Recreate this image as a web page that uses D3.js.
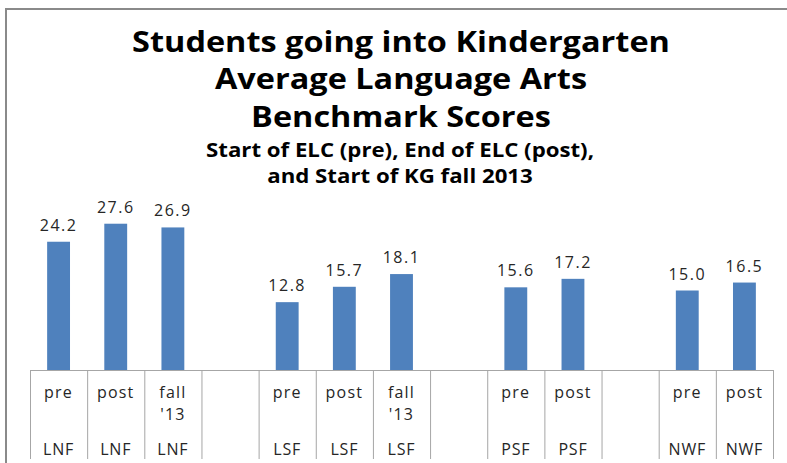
<!DOCTYPE html>
<html>
<head>
<meta charset="utf-8">
<script src="https://cdn.jsdelivr.net/npm/d3@7"></script>
<style>
  body { margin: 0; background: #fff; }
  text { font-family: "Open Sans", sans-serif; }
</style>
</head>
<body>
<div id="chart"></div>
<script>
// data
const measures = ["LNF", "LNF", "LNF", "", "LSF", "LSF", "LSF", "", "PSF", "PSF", "", "NWF", "NWF"];
const periods = ["pre", "post", "fall '13", "", "pre", "post", "fall '13", "", "pre", "post", "", "pre", "post"];
const scores = [24.2, 27.6, 26.9, null, 12.8, 15.7, 18.1, null, 15.6, 17.2, null, 15.0, 16.5];

const titleLines = ["Students going into Kindergarten", "Average Language Arts", "Benchmark Scores"];
const subtitleLines = ["Start of ELC (pre), End of ELC (post),", "and Start of KG fall 2013"];

const W = 787, H = 463;
const left = 30, right = 773, baseline = 370, tableBottom = 459;

const svg = d3.select("#chart")
  .append("svg")
    .attr("width", W)
    .attr("height", H);

// outer frame (top and left edges visible)
svg.append("path")
  .attr("d", `M6,${H} V9 H${W}`)
  .attr("fill", "none")
  .attr("stroke", "#8a8a8a")
  .attr("stroke-width", 2);

// titles (original font is a bit wider, so stretch horizontally)
svg.append("g")
  .attr("transform", "translate(401,0) scale(1.12,1)")
  .selectAll(".title")
  .data(titleLines)
  .join("text")
    .attr("class", "title")
    .attr("x", 0)
    .attr("y", (d, i) => 52 + i * 37.5)
    .attr("text-anchor", "middle")
    .attr("font-size", "29px")
    .attr("font-weight", "bold")
    .attr("fill", "#000")
    .text(d => d);

svg.append("g")
  .attr("transform", "translate(400,0) scale(1.17,1)")
  .selectAll(".subtitle")
  .data(subtitleLines)
  .join("text")
    .attr("class", "subtitle")
    .attr("x", 0)
    .attr("y", (d, i) => 157 + i * 26)
    .attr("text-anchor", "middle")
    .attr("font-size", "19px")
    .attr("font-weight", "bold")
    .attr("fill", "#000")
    .text(d => d);

// scales
const idx = d3.range(scores.length).map(String);
const x = d3.scaleBand()
  .domain(idx)
  .range([left, right])
  .paddingInner(0.6)
  .paddingOuter(0.3);

const xEdge = d3.scaleLinear()
  .domain([0, scores.length])
  .range([left, right]);

const y = d3.scaleLinear()
  .domain([0, 30])
  .range([baseline, 211]);

const data = idx.map((k, i) => ({k, measure: measures[i], period: periods[i], v: scores[i]}))
  .filter(d => d.v !== null);

// bars
svg.selectAll(".bar")
  .data(data)
  .join("rect")
    .attr("class", "bar")
    .attr("x", d => x(d.k))
    .attr("width", x.bandwidth())
    .attr("y", d => y(d.v))
    .attr("height", d => baseline - y(d.v))
    .attr("fill", "#4F81BD");

// value labels
svg.selectAll(".label")
  .data(data)
  .join("text")
    .attr("class", "label")
    .attr("x", d => x(d.k) + x.bandwidth() / 2)
    .attr("y", d => y(d.v) - 11)
    .attr("text-anchor", "middle")
    .attr("font-size", "16px")
    .attr("letter-spacing", "1.5px")
    .attr("fill", "#262626")
    .text(d => d3.format(".1f")(d.v));

// category table: separators between slots
const sep = svg.append("g")
  .attr("transform", `translate(0,${baseline})`)
  .call(d3.axisBottom(xEdge)
    .tickValues(d3.range(scores.length + 1))
    .tickSize(tableBottom - baseline)
    .tickFormat(""));
sep.selectAll("line, path").attr("stroke", "#a6a6a6");
sep.select(".domain").attr("d", `M${left},0.5H${right}`);

// period labels
const catAxis = svg.append("g")
  .attr("transform", `translate(0,${baseline})`)
  .call(d3.axisBottom(x).tickSize(0).tickFormat(""));
catAxis.select(".domain").remove();

catAxis.selectAll(".tick")
  .append("text")
    .attr("text-anchor", "middle")
    .attr("font-size", "16px")
    .attr("letter-spacing", "1.2px")
    .attr("fill", "#262626")
    .each(function(d) {
      const lines = periods[+d].split(" ");
      d3.select(this).selectAll("tspan")
        .data(lines)
        .join("tspan")
          .attr("x", 0)
          .attr("y", (l, i) => 28 + i * 22)
          .text(l => l);
    });

// measure labels
catAxis.selectAll(".tick")
  .append("text")
    .attr("text-anchor", "middle")
    .attr("y", 85)
    .attr("font-size", "16px")
    .attr("letter-spacing", "0.8px")
    .attr("fill", "#262626")
    .text(d => measures[+d]);
</script>
</body>
</html>
